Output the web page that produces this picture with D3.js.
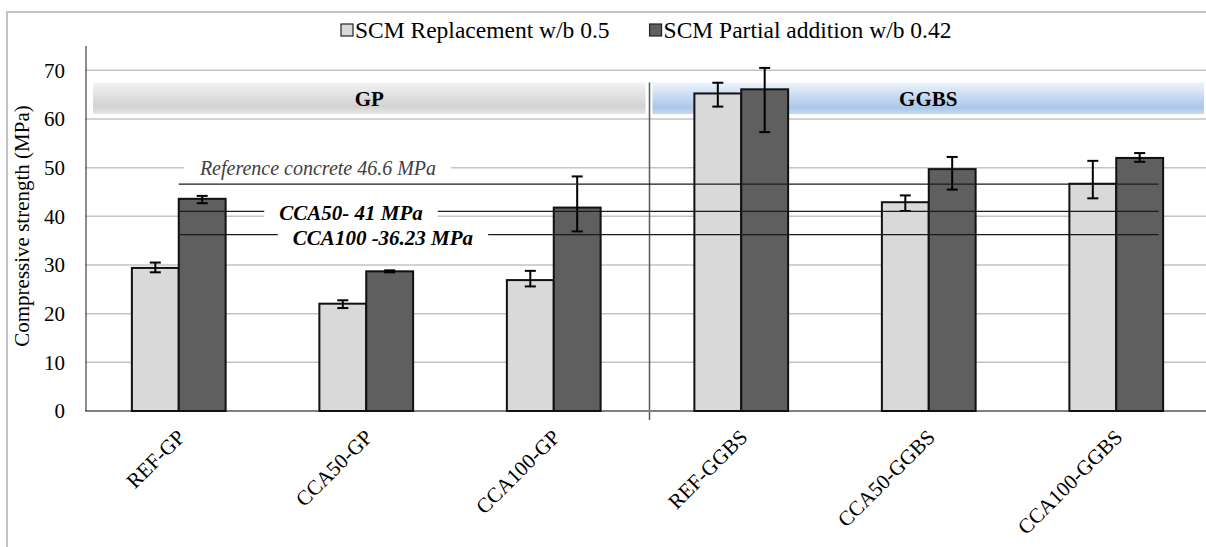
<!DOCTYPE html>
<html>
<head>
<meta charset="utf-8">
<script src="https://cdn.jsdelivr.net/npm/d3@7"></script>
<style>
  body { margin: 0; background: #fff; }
</style>
</head>
<body>
<div id="chart"></div>
<script>
// data
const categories = ['REF-GP', 'CCA50-GP', 'CCA100-GP', 'REF-GGBS', 'CCA50-GGBS', 'CCA100-GGBS'];
const seriesNames = ['SCM Replacement w/b 0.5', 'SCM Partial addition w/b 0.42'];
const replacement = [29.4, 22.05, 26.9, 65.25, 42.9, 46.7];
const replacementErrUp = [1.1, 0.7, 1.9, 2.2, 1.4, 4.7];
const replacementErrDown = [0.9, 0.9, 1.3, 2.7, 1.8, 3.0];
const partial = [43.6, 28.7, 41.8, 66.1, 49.7, 52.0];
const partialErrUp = [0.6, 0.2, 6.4, 4.4, 2.5, 1.0];
const partialErrDown = [0.9, 0.2, 4.9, 8.8, 4.2, 0.8];
const groups = ['GP', 'GGBS'];
const refValues = [46.6, 41, 36.23];
const refLabels = ['Reference concrete 46.6 MPa', 'CCA50- 41 MPa', 'CCA100 -36.23 MPa'];
const yTicks = [0, 10, 20, 30, 40, 50, 60, 70];

const W = 1206, H = 547;
const plotLeft = 85, plotRight = 1210, plotTop = 46, plotBottom = 411;
const fills = ['#d9d9d9', '#5f5f5f'];
const serif = '"Liberation Serif", "Times New Roman", Times, "DejaVu Serif", serif';

const svg = d3.select('#chart').append('svg')
  .attr('width', W)
  .attr('height', H)
  .attr('font-family', serif)
  .style('font-family', serif);

const defs = svg.append('defs');
const gGray = defs.append('linearGradient').attr('id', 'gp').attr('x1', 0).attr('y1', 0).attr('x2', 0).attr('y2', 1);
gGray.append('stop').attr('offset', '0%').attr('stop-color', '#f3f3f3');
gGray.append('stop').attr('offset', '75%').attr('stop-color', '#d2d2d2');
gGray.append('stop').attr('offset', '100%').attr('stop-color', '#e6e6e6');
const gBlue = defs.append('linearGradient').attr('id', 'ggbs').attr('x1', 0).attr('y1', 0).attr('x2', 0).attr('y2', 1);
gBlue.append('stop').attr('offset', '0%').attr('stop-color', '#edf3fb');
gBlue.append('stop').attr('offset', '80%').attr('stop-color', '#a9c7ea');
gBlue.append('stop').attr('offset', '100%').attr('stop-color', '#c8dbf1');

// chart border
svg.append('rect')
  .attr('x', 7).attr('y', 12)
  .attr('width', W + 20).attr('height', H + 20)
  .attr('fill', 'none').attr('stroke', '#c4c4c4').attr('stroke-width', 2);

const y = d3.scaleLinear().domain([0, 75]).range([plotBottom, plotTop]);
const x = d3.scaleBand().domain(categories).range([plotLeft, plotRight])
  .paddingInner(0.5).paddingOuter(0.25);
const xs = d3.scaleBand().domain([0, 1]).range([0, x.bandwidth()]);

// gridlines
svg.append('g').selectAll('line')
  .data(yTicks.filter(d => d > 0))
  .join('line')
    .attr('x1', plotLeft).attr('x2', W)
    .attr('y1', d => y(d)).attr('y2', d => y(d))
    .attr('stroke', '#c3c3c3').attr('stroke-width', 1.5);

// tick labels
svg.append('g').selectAll('text')
  .data(yTicks)
  .join('text')
    .attr('x', 65).attr('y', d => y(d))
    .attr('dy', '0.35em')
    .attr('text-anchor', 'end')
    .style('font-size', '21px')
    .text(d => d);

// group bands
const sep = (x('CCA100-GP') + x.bandwidth() + x('REF-GGBS')) / 2 + 2;
const bandTop = y(67.5), bandBot = y(61);
const bands = [
  { name: groups[0], x0: plotLeft + 8, x1: sep - 4, fill: 'url(#gp)' },
  { name: groups[1], x0: sep + 3, x1: W - 2, fill: 'url(#ggbs)' }
];
svg.append('g').selectAll('rect')
  .data(bands)
  .join('rect')
    .attr('x', d => d.x0).attr('y', bandTop)
    .attr('width', d => d.x1 - d.x0).attr('height', bandBot - bandTop)
    .attr('fill', d => d.fill);
svg.append('g').selectAll('text')
  .data(bands)
  .join('text')
    .attr('x', d => (d.x0 + d.x1) / 2).attr('y', (bandTop + bandBot) / 2)
    .attr('dy', '0.35em')
    .attr('text-anchor', 'middle')
    .style('font-size', '21px').style('font-weight', 'bold')
    .text(d => d.name);

// separator
svg.append('line')
  .attr('x1', sep).attr('x2', sep)
  .attr('y1', bandTop).attr('y2', plotBottom + 9)
  .attr('stroke', '#595959').attr('stroke-width', 1.5);

// axes lines
svg.append('line')
  .attr('x1', plotLeft).attr('x2', W)
  .attr('y1', plotBottom).attr('y2', plotBottom)
  .attr('stroke', '#808080').attr('stroke-width', 2);
svg.append('line')
  .attr('x1', plotLeft + 1).attr('x2', plotLeft + 1)
  .attr('y1', plotTop).attr('y2', plotBottom)
  .attr('stroke', '#404040').attr('stroke-width', 1.2);

// bars
const series = [
  { values: replacement, up: replacementErrUp, down: replacementErrDown },
  { values: partial, up: partialErrUp, down: partialErrDown }
];
series.forEach((s, si) => {
  svg.append('g').selectAll('rect')
    .data(categories)
    .join('rect')
      .attr('x', c => x(c) + xs(si))
      .attr('y', (c, i) => y(s.values[i]))
      .attr('width', xs.bandwidth())
      .attr('height', (c, i) => y(0) - y(s.values[i]))
      .attr('fill', fills[si])
      .attr('stroke', '#111').attr('stroke-width', 2);
});

// error bars
series.forEach((s, si) => {
  const g = svg.append('g').attr('stroke', '#000').attr('stroke-width', 2);
  categories.forEach((c, i) => {
    const cx = x(c) + xs(si) + xs.bandwidth() / 2;
    const hi = y(s.values[i] + s.up[i]);
    const lo = y(s.values[i] - s.down[i]);
    g.append('line').attr('x1', cx).attr('x2', cx).attr('y1', hi).attr('y2', lo);
    g.append('line').attr('x1', cx - 5.5).attr('x2', cx + 5.5).attr('y1', hi).attr('y2', hi);
    g.append('line').attr('x1', cx - 5.5).attr('x2', cx + 5.5).attr('y1', lo).attr('y2', lo);
  });
});

// reference lines with labels
const refX0 = x(categories[0]) + x.bandwidth() / 2;
const refX1 = x(categories[5]) + x.bandwidth() * 0.95;
const refStyle = [
  { cx: 318, at: 50, size: 20, weight: 'normal', color: '#404040' },
  { cx: 351, at: 40.8, size: 21, weight: 'bold', color: '#000' },
  { cx: 383, at: 35.6, size: 21, weight: 'bold', color: '#000' }
];
refValues.forEach(v => {
  svg.append('line')
    .attr('x1', refX0).attr('x2', refX1)
    .attr('y1', y(v)).attr('y2', y(v))
    .attr('stroke', '#1a1a1a').attr('stroke-width', 1.2);
});
refValues.forEach((v, i) => {
  const st = refStyle[i];
  const t = svg.append('text')
    .attr('x', st.cx).attr('y', y(st.at))
    .attr('dy', '0.35em')
    .attr('text-anchor', 'middle')
    .style('font-size', st.size + 'px')
    .style('font-style', 'italic')
    .style('font-weight', st.weight)
    .style('fill', st.color)
    .text(refLabels[i]);
  const bb = t.node().getBBox();
  svg.insert('rect', () => t.node())
    .attr('x', bb.x - 15).attr('y', bb.y + 3)
    .attr('width', bb.width + 30).attr('height', bb.height - 6)
    .attr('fill', '#fff');
});

// category labels
svg.append('g').selectAll('text')
  .data(categories)
  .join('text')
    .attr('transform', c => `translate(${x(c) + x.bandwidth() / 2 - 3},${plotBottom + 17}) rotate(-45)`)
    .attr('dy', '0.7em')
    .attr('text-anchor', 'end')
    .style('font-size', '21px')
    .text(c => c);

// y title
svg.append('text')
  .attr('transform', `translate(22,${(100 + 352) / 2}) rotate(-90)`)
  .attr('dy', '0.35em')
  .attr('text-anchor', 'middle')
  .style('font-size', '21px')
  .text('Compressive strength (MPa)');

// legend
let lx = 341;
seriesNames.forEach((name, i) => {
  svg.append('rect')
    .attr('x', lx).attr('y', 24)
    .attr('width', 12).attr('height', 12)
    .attr('fill', fills[i]).attr('stroke', '#222').attr('stroke-width', 1.2);
  const t = svg.append('text')
    .attr('x', lx + 14).attr('y', 38)
    .style('font-size', '23.5px')
    .text(name);
  lx += 14 + t.node().getComputedTextLength() + 40;
});
</script>
</body>
</html>
